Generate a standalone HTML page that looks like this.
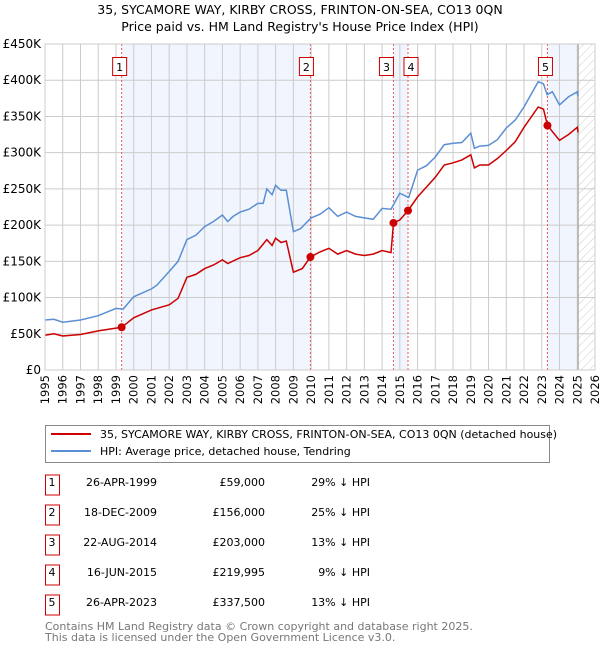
<!DOCTYPE html>
<html><head><meta charset="utf-8"><style>
body{margin:0;background:#fff;font-family:"DejaVu Sans","Liberation Sans",sans-serif;}
svg text{font-family:"DejaVu Sans","Liberation Sans",sans-serif;}
</style></head><body>
<svg id="chart" width="600" height="650" xmlns="http://www.w3.org/2000/svg">
<defs><pattern id="hatch" width="6" height="6" patternUnits="userSpaceOnUse" patternTransform="rotate(45)"><line x1="0" y1="0" x2="0" y2="6" stroke="#ccc" stroke-width="1"/></pattern></defs>
<text x="300" y="14" text-anchor="middle" font-size="12.5">35, SYCAMORE WAY, KIRBY CROSS, FRINTON-ON-SEA, CO13 0QN</text>
<text x="300" y="31" text-anchor="middle" font-size="12.5">Price paid vs. HM Land Registry's House Price Index (HPI)</text>
<g id="plot"></g>
<g>
<rect x="45.5" y="425.5" width="504" height="37" fill="#fff" stroke="#888"/>
<line x1="51" y1="434" x2="91" y2="434" stroke="#cc0000" stroke-width="2"/>
<text x="100" y="438" font-size="11">35, SYCAMORE WAY, KIRBY CROSS, FRINTON-ON-SEA, CO13 0QN (detached house)</text>
<line x1="51" y1="451" x2="91" y2="451" stroke="#5b8fd4" stroke-width="2"/>
<text x="100" y="455" font-size="11">HPI: Average price, detached house, Tendring</text>
</g>
<g id="table"></g>
<text x="45" y="630" font-size="11" fill="#777">Contains HM Land Registry data © Crown copyright and database right 2025.</text>
<text x="45" y="641" font-size="11" fill="#777">This data is licensed under the Open Government Licence v3.0.</text>
</svg>
<script>
const hpiYears=[1995,1995.5,1996,1997,1998,1999,1999.4,2000,2001,2001.3,2002,2002.5,2003,2003.5,2004,2004.5,2005,2005.3,2005.6,2006,2006.5,2007,2007.3,2007.5,2007.8,2008,2008.3,2008.6,2009,2009.4,2010,2010.5,2011,2011.5,2012,2012.5,2013,2013.5,2014,2014.5,2015,2015.5,2016,2016.5,2017,2017.5,2018,2018.5,2019,2019.2,2019.5,2020,2020.5,2021,2021.5,2022,2022.5,2022.8,2023.1,2023.3,2023.6,2024,2024.5,2025,2025.05];
const hpiValues=[69,70,66,69,75,85,84,101,112,117,136,150,180,186,198,205,214,205,212,218,222,230,230,250,242,255,248,248,191,195,210,215,224,212,218,212,210,208,223,222,244,238,276,282,294,311,313,314,327,306,309,310,318,334,345,363,385,398,395,380,384,366,377,384,378];
const ppYears=[1995,1995.5,1996,1997,1998,1999.32,2000,2001,2002,2002.5,2003,2003.5,2004,2004.5,2005,2005.3,2006,2006.5,2007,2007.5,2007.8,2008,2008.3,2008.6,2009,2009.5,2009.96,2010.5,2011,2011.5,2012,2012.5,2013,2013.5,2014,2014.5,2014.64,2015,2015.46,2016,2017,2017.5,2018,2018.5,2019,2019.2,2019.5,2020,2020.5,2021,2021.5,2022,2022.8,2023.1,2023.32,2024,2024.5,2025,2025.05];
const ppValues=[48,50,47,49,54,59,72,83,90,99,128,132,140,145,152,147,155,158,165,180,172,182,176,178,135,140,156,163,168,160,165,160,158,160,165,162,203,207,220,239,266,283,286,290,297,279,283,283,292,303,315,335,363,360,337.5,317,325,335,328];
const saleYears=[1999.32,2009.96,2014.64,2015.46,2023.32];
const saleValues=[59,156,203,219.995,337.5];
const saleLabels=["1","2","3","4","5"];
const saleDates=["26-APR-1999","18-DEC-2009","22-AUG-2014","16-JUN-2015","26-APR-2023"];
const salePrices=["£59,000","£156,000","£203,000","£219,995","£337,500"];
const saleHpi=["29% ↓ HPI","25% ↓ HPI","13% ↓ HPI","9% ↓ HPI","13% ↓ HPI"];
const yTicks=[0,50,100,150,200,250,300,350,400,450];
const yTickLabels=["£0","£50K","£100K","£150K","£200K","£250K","£300K","£350K","£400K","£450K"];

const NS="http://www.w3.org/2000/svg";
const X0=45,X1=595,Y0=370,Y1=44;
const xs=y=>X0+(y-1995)/(2026-1995)*(X1-X0);
const ys=v=>Y0-v/450*(Y0-Y1);
const plot=document.getElementById('plot');
function mk(tag,at,parent){const e=document.createElementNS(NS,tag);for(const k in at)e.setAttribute(k,at[k]);(parent||plot).appendChild(e);return e;}
const shades=[[0,1],[2,3],[4,null]];
shades.forEach(([a,b])=>{const xa=xs(saleYears[a]),xb=b===null?xs(2025.05):xs(saleYears[b]);
const r=mk('rect',{x:xa,y:Y1,width:xb-xa,height:Y0-Y1,fill:'#eef3fc',opacity:0.8});

});
const hat=mk('rect',{x:xs(2025.05),y:Y1,width:X1-xs(2025.05),height:Y0-Y1,fill:'url(#hatch)'});


for(let yr=1995;yr<=2026;yr++){const x=xs(yr);
const l=mk('line',{x1:x,y1:Y1,x2:x,y2:Y0,stroke:'#cccccc','stroke-width':1});


const t=mk('text',{x:0,y:0,'font-size':11.5,'text-anchor':'end',transform:`translate(${x+4},${Y0+5}) rotate(-90)`});
t.textContent=yr;

}
yTicks.forEach((v,i)=>{const y=ys(v);
const l=mk('line',{x1:X0,y1:y,x2:X1,y2:y,stroke:'#cccccc','stroke-width':1});


const t=mk('text',{x:X0-4,y:y+4,'font-size':12,'text-anchor':'end'});
t.textContent=yTickLabels[i];

});
const now=mk('line',{x1:xs(2025.05),y1:Y1,x2:xs(2025.05),y2:Y0,stroke:'#999','stroke-width':1});


const boxOff=[-2,-4,-3,3,-2];
saleYears.forEach((yr,i)=>{const x=xs(yr);
const l=mk('line',{x1:x,y1:Y1,x2:x,y2:Y0,stroke:'#ee5555','stroke-width':1,'stroke-dasharray':'2,2'});


const cx=x+boxOff[i]-(i==2?4:0);
const b=mk('rect',{x:cx-7,y:57.5,width:14,height:18,fill:'#fff',stroke:'#cc0000'});


const t=mk('text',{x:cx,y:71,'font-size':11,'text-anchor':'middle'});
t.textContent=saleLabels[i];

});
const path=(xa,va)=>xa.map((y,i)=>(i?'L':'M')+xs(y).toFixed(1)+','+ys(va[i]).toFixed(1)).join('');
const hl=mk('path',{d:path(hpiYears,hpiValues),fill:'none',stroke:'#5b8fd4','stroke-width':1.5});


const pl=mk('path',{d:path(ppYears,ppValues),fill:'none',stroke:'#cc0000','stroke-width':1.5});


saleYears.forEach((yr,i)=>{const c=mk('circle',{cx:xs(yr),cy:ys(saleValues[i]),r:4,fill:'#cc0000'});

});
const ax=mk('rect',{x:X0,y:Y1,width:X1-X0,height:Y0-Y1,fill:'none',stroke:'#cccccc'});


const tb=document.getElementById('table');
saleLabels.forEach((s,i)=>{const yc=485+i*30;
const b=mk('rect',{x:45.5,y:yc-10,width:14,height:20,fill:'#fff',stroke:'#cc0000'},tb);


const cells=[[52,s,'middle'],[157,saleDates[i],'end'],[265,salePrices[i],'end'],[370,saleHpi[i],'end']];
cells.forEach(([x,txt,an])=>{const t=mk('text',{x:x,y:yc+1,'font-size':11,'text-anchor':an},tb);
t.textContent=txt;

});});
</script>
</body></html>
